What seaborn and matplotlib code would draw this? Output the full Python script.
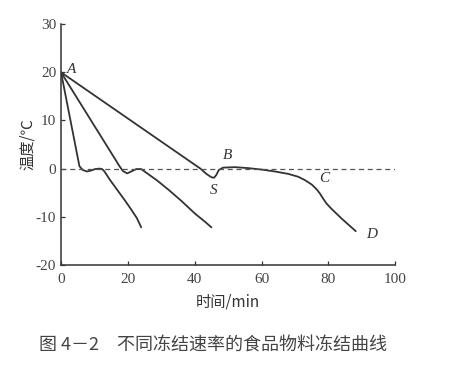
import numpy as np
import pandas as pd
import matplotlib
matplotlib.use("Agg")
import matplotlib.pyplot as plt
import seaborn as sns

# curve data (time in min, temperature in C)
fast_t = [0, 5.5, 6.5, 7.8, 9.0, 10.2, 11.5, 12.3, 13.0, 14.6, 17, 19, 21, 22.7, 24]
fast_T = [20, 0.5, -0.3, -0.6, -0.4, -0.1, 0.0, -0.1, -0.6, -2.3, -4.6, -6.5, -8.5, -10.3, -12.2]

mid_t = [0, 17.5, 18.5, 19.8, 21, 22.5, 24, 25, 28.8, 32, 36, 40, 43, 45]
mid_T = [20, 0.5, -0.5, -1.0, -0.6, -0.1, -0.1, -0.6, -2.5, -4.3, -6.7, -9.3, -11.0, -12.2]

slow_t = [0, 41.7, 43.5, 45, 45.8, 46.5, 47.2, 48.5, 52, 56, 60, 64, 68, 71, 73, 75,
          76.5, 77.5, 78.5, 79.5, 81, 84, 88.2]
slow_T = [20, 0, -1.1, -1.8, -1.9, -1.3, -0.3, 0.2, 0.3, 0.1, -0.2, -0.6, -1.1, -1.7, -2.4, -3.3,
          -4.3, -5.2, -6.3, -7.3, -8.4, -10.4, -13.0]

point_labels = ["A", "B", "S", "C", "D"]
point_x = [3.2, 49.9, 45.6, 78.8, 93.1]
point_y = [20.6, 2.7, -4.5, -2.1, -13.6]

x_ticks = [0, 20, 40, 60, 80, 100]
y_ticks = [-20, -10, 0, 10, 20, 30]

sns.set_style("ticks")
plt.rcParams["font.family"] = ["Liberation Serif", "DejaVu Serif"]
plt.rcParams["axes.unicode_minus"] = False
cjk = ["Noto Sans CJK SC", "DejaVu Sans"]
ink = "#333333"

fig = plt.figure(figsize=(4.66, 3.72), dpi=100)
ax = fig.add_axes([0.131, 0.288, 0.717, 0.647])

for t, T in [(fast_t, fast_T), (mid_t, mid_T), (slow_t, slow_T)]:
    df = pd.DataFrame({"t": t, "T": T})
    sns.lineplot(data=df, x="t", y="T", ax=ax, color=ink, linewidth=1.3,
                 sort=False, estimator=None)

# freezing point reference line
ax.axhline(0, color="#555555", linestyle=(0, (4, 3)), linewidth=0.9)

for lab, px, py in zip(point_labels, point_x, point_y):
    ax.text(px, py, lab, fontsize=11, style="italic", color=ink,
            ha="center", va="center")

ax.set_xlim(0, 100)
ax.set_ylim(-20, 30)
ax.set_xticks(x_ticks)
ax.set_yticks(y_ticks)
ax.tick_params(direction="in", length=3, width=0.9, colors=ink, labelsize=11,
               labelcolor="#444444")
ax.tick_params(axis="x", pad=6)
sns.despine(ax=ax)
for s in ["left", "bottom"]:
    ax.spines[s].set_color(ink)
    ax.spines[s].set_linewidth(1.1)

ax.set_xlabel("时间/min", family=cjk, fontsize=11, color=ink, labelpad=5)
ax.set_ylabel("温度/℃", family=cjk, fontsize=11, color=ink, labelpad=0)

fig.text(0.458, 0.073, "图 4－2　不同冻结速率的食品物料冻结曲线", family=cjk,
         fontsize=13, color="#444444", ha="center", va="center")

fig.savefig("out.png", dpi=100, facecolor="white")
